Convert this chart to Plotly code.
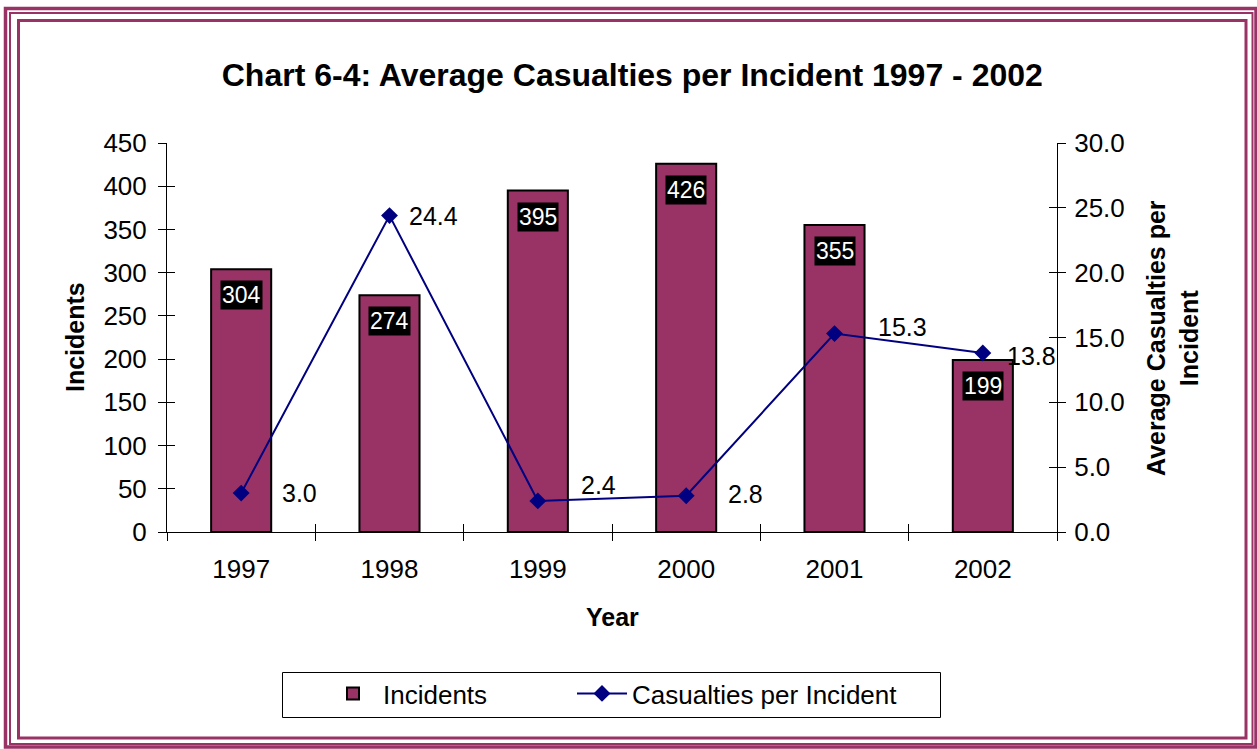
import plotly.graph_objects as go

# Data
years = ["1997", "1998", "1999", "2000", "2001", "2002"]
incidents = [304, 274, 395, 426, 355, 199]
casualties_per_incident = [3.0, 24.4, 2.4, 2.8, 15.3, 13.8]

# Page geometry (pixels)
W, H = 1257, 749
ML, MR, MT, MB = 167, 200, 143, 217
PW, PH = W - ML - MR, H - MT - MB

BAR = "#993366"
NAVY = "#000080"
FONT = "Liberation Sans, Arial, sans-serif"


def px(x):
    return (x - ML) / PW


def py(y):
    return (H - MB - y) / PH


fig = go.Figure()

fig.add_trace(go.Bar(
    x=years, y=incidents, name="Incidents", legend="legend",
    marker=dict(color=BAR, line=dict(color="black", width=2)),
    width=0.405, hoverinfo="skip",
))
fig.add_trace(go.Scatter(
    x=years, y=casualties_per_incident, name="Casualties per Incident",
    legend="legend2", yaxis="y2", mode="lines+markers",
    line=dict(color=NAVY, width=2),
    marker=dict(symbol="diamond", size=13, color=NAVY),
    hoverinfo="skip",
))
# carriers for the inner half of the crossing tick marks
fig.add_trace(go.Scatter(x=years, y=[None] * len(years), xaxis="x2", yaxis="y3",
                         showlegend=False, hoverinfo="skip"))
fig.add_trace(go.Scatter(x=years, y=[None] * len(years), xaxis="x2", yaxis="y4",
                         showlegend=False, hoverinfo="skip"))

annotations = []

# value boxes inside the bars (category index used as x position)
for i, v in enumerate(incidents):
    annotations.append(dict(
        x=i, y=v, xref="x", yref="y", text=str(v), showarrow=False,
        xanchor="center", yanchor="top", yshift=-11, bgcolor="black", borderpad=1,
        font=dict(family=FONT, size=23, color="white"),
    ))

# line labels to the right of each marker
label_dx = [39, 17, 41, 40, 41, 22]
label_dy = [0, 0, 16, 2, 7, -3]
for i, (v, dx, dy) in enumerate(zip(casualties_per_incident, label_dx, label_dy)):
    annotations.append(dict(
        x=i, y=v, xref="x", yref="y2", text=f"{v:.1f}", showarrow=False,
        xanchor="left", yanchor="middle", xshift=dx, yshift=dy,
        font=dict(family=FONT, size=25, color="black"),
    ))

# axis titles
title_font = dict(family=FONT, size=25, color="black")
annotations += [
    dict(x=px(75), y=py(337), xref="paper", yref="paper", text="<b>Incidents</b>",
         textangle=-90, showarrow=False, xanchor="center", yanchor="middle",
         font=title_font),
    dict(x=px(612), y=py(617), xref="paper", yref="paper", text="<b>Year</b>",
         showarrow=False, xanchor="center", yanchor="middle", font=title_font),
    dict(x=px(1172), y=py(338), xref="paper", yref="paper",
         text="<b>Average Casualties per<br>Incident</b>", textangle=-90,
         showarrow=False, xanchor="center", yanchor="middle", font=title_font),
]

# decorative frame
shapes = []
for (x0, y0, x1, y1, w) in [(5.5, 8.5, 1256, 747, 3.5),
                             (10, 13, 1252.5, 744, 2),
                             (18.5, 20.5, 1246, 738, 3)]:
    shapes.append(dict(type="rect", xref="paper", yref="paper",
                       x0=px(x0), x1=px(x1), y0=py(y0), y1=py(y1),
                       line=dict(color=BAR, width=w), layer="below"))
# legend box enclosing both legend entries
shapes.append(dict(type="rect", xref="paper", yref="paper",
                   x0=px(282.5), x1=px(940.5), y0=py(672.5), y1=py(717.5),
                   line=dict(color="black", width=1)))

tickfont = dict(family=FONT, size=26, color="black")
legfont = dict(family=FONT, size=26, color="black")
cat_range = [-0.5, len(years) - 0.5]

fig.update_layout(
    width=W, height=H,
    margin=dict(l=ML, r=MR, t=MT, b=MB, autoexpand=False),
    paper_bgcolor="white", plot_bgcolor="white",
    title=dict(text="<b>Chart 6-4: Average Casualties per Incident 1997 - 2002</b>",
               x=0.503, xanchor="center", xref="container",
               y=1 - 75 / H, yanchor="middle", yref="container",
               font=dict(family=FONT, size=32, color="black")),
    xaxis=dict(type="category", range=cat_range, tickson="boundaries",
               ticks="outside", ticklen=8, tickcolor="black", tickwidth=1,
               showline=True, linecolor="black", linewidth=1,
               ticklabelstandoff=14,
               showgrid=False, tickfont=tickfont, fixedrange=True),
    xaxis2=dict(type="category", range=cat_range, overlaying="x", anchor="y3",
                side="bottom", tickson="boundaries", ticks="inside", ticklen=8,
                tickcolor="black", showticklabels=False, showline=False,
                showgrid=False, fixedrange=True),
    yaxis=dict(range=[0, 450], dtick=50, ticks="outside", ticklen=8,
               tickcolor="black", showline=True, linecolor="black", linewidth=1,
               ticklabelstandoff=6,
               showgrid=False, zeroline=False, tickfont=tickfont, fixedrange=True),
    yaxis2=dict(range=[0, 30], dtick=5, tickformat=".1f", overlaying="y",
                side="right", ticks="outside", ticklen=8, tickcolor="black",
                showline=True, linecolor="black", linewidth=1, showgrid=False,
                ticklabelstandoff=3,
                zeroline=False, tickfont=tickfont, fixedrange=True),
    yaxis3=dict(range=[0, 450], dtick=50, overlaying="y", side="left",
                ticks="inside", ticklen=8, tickcolor="black",
                showticklabels=False, showgrid=False, zeroline=False, fixedrange=True),
    yaxis4=dict(range=[0, 30], dtick=5, overlaying="y", side="right",
                ticks="inside", ticklen=8, tickcolor="black",
                showticklabels=False, showgrid=False, zeroline=False, fixedrange=True),
    legend=dict(orientation="h", x=px(323), xanchor="left", y=py(670),
                yanchor="top", borderwidth=0, bgcolor="rgba(0,0,0,0)",
                font=legfont, itemwidth=50),
    legend2=dict(orientation="h", x=px(572), xanchor="left", y=py(670),
                 yanchor="top", borderwidth=0, bgcolor="rgba(0,0,0,0)",
                 font=legfont, itemwidth=50),
    bargap=0.6, showlegend=True,
    annotations=annotations, shapes=shapes,
)

fig.write_html("out.html")
